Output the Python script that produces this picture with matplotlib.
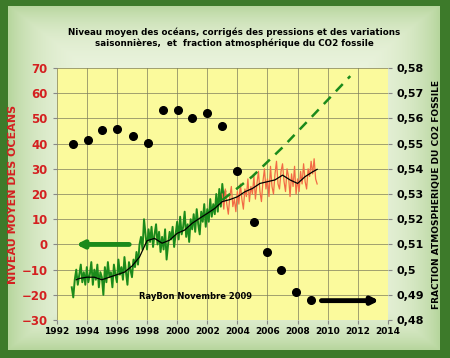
import numpy as np
import matplotlib.pyplot as plt

# niveau moyen (mm), pas de 0.1 an
green_start = 1993.0
green_vals = [-17, -21, -14, -10, -16, -12, -8, -15, -11, -16,
              -9, -15, -12, -7, -16, -10, -14, -8, -17, -11,
              -13, -20, -9, -15, -7, -13, -11, -17, -8, -12,
              -15, -6, -12, -9, -14, -5, -11, -16, -7, -10,
              -13, -6, -9, -3, -8, 0, 3, -2, 10, 4,
              -2, 6, 1, 7, -1, 4, 8, 0, 5, -3,
              3, -2, 6, -6, 0, 5, 2, 7, -1, 4,
              9, 2, 11, 4, 7, 13, 3, 8, 1, 10,
              6, 12, 5, 14, 8, 4, 13, 9, 16, 7,
              14, 9, 18, 11, 16, 12, 20, 13, 22, 15,
              24, 18, 21]
red_start = 2003.0
red_vals = [20, 14, 22, 16, 12, 19, 23, 15, 18, 13,
            21, 16, 24, 18, 14, 22, 19, 26, 17, 23,
            20, 27, 18, 24, 29, 21, 17, 25, 30, 22,
            26, 19, 31, 23, 20, 28, 33, 24, 22, 29,
            32, 25, 21, 30, 27, 19, 28, 23, 31, 20,
            26, 21, 29, 24, 32, 25, 22, 30, 27, 33,
            28, 34, 26, 24]
mean_years = [1993.3, 1993.5, 1994.0, 1994.5, 1995.0, 1995.5, 1996.0, 1996.5, 1997.0,
              1997.5, 1998.0, 1998.5, 1999.0, 1999.5, 2000.0, 2000.5, 2001.0, 2001.5,
              2002.0, 2002.5, 2003.0, 2003.5, 2004.0, 2004.5, 2005.0, 2005.5, 2006.0,
              2006.5, 2007.0, 2007.5, 2008.0, 2008.5, 2009.0, 2009.3]
mean_vals = [-14, -13.5, -13, -13, -14, -13, -12, -11, -8.6,
             -5, 1.5, 2.4, 0.5, 1.7, 4.4, 5.7, 8.4, 10.4,
             12.3, 14.3, 17, 17.8, 18.9, 20.9, 22.2, 24.2, 24.9,
             25.6, 27.5, 25.6, 24.2, 26.9, 28.8, 29.8]
trend_years = [2003.0, 2005.0, 2007.0, 2009.0, 2011.5]
trend_vals = [17.6, 27, 38.5, 51, 66.8]

# fraction atmospherique du CO2 fossile
frac_years = [1993.05, 1994.07, 1995.03, 1996.0, 1997.05, 1998.04, 1999.03, 2000.03,
              2001.0, 2002.0, 2003.0, 2004.0, 2005.1, 2006.0, 2006.9, 2007.9, 2008.9]
frac_vals = [0.550, 0.5515, 0.5555, 0.556, 0.553, 0.5503, 0.5633, 0.5633,
             0.560, 0.562, 0.557, 0.539, 0.519, 0.507, 0.500, 0.491, 0.488]

right_ticks = [0.48, 0.49, 0.50, 0.51, 0.52, 0.53, 0.54, 0.55, 0.56, 0.57, 0.58]
right_labels = ['0,48', '0,49', '0,5', '0,51', '0,52', '0,53', '0,54', '0,55', '0,56', '0,57', '0,58']

green_years = green_start + 0.1 * np.arange(len(green_vals))
red_years = red_start + 0.1 * np.arange(len(red_vals))

fig = plt.figure(figsize=(4.5, 3.58), dpi=100)
fig.patch.set_facecolor('#3d7a2a')

# fond degrade vert clair
bg = fig.add_axes([0.018, 0.022, 0.958, 0.962])
yy, xx = np.mgrid[-1:1:200j, -1:1:200j]
r = np.clip(np.maximum(np.abs(xx) ** 6, np.abs(yy) ** 6), 0, 1)
c_in = np.array([0.93, 0.96, 0.88])
c_out = np.array([0.72, 0.84, 0.62])
img = c_in[None, None, :] * (1 - r[..., None]) + c_out[None, None, :] * r[..., None]
bg.imshow(img, aspect='auto', extent=[0, 1, 0, 1])
bg.set_axis_off()

ax = fig.add_axes([0.126, 0.106, 0.736, 0.704])
ax.set_facecolor('#fbfa9c')
ax.plot(green_years, green_vals, color='#1b8a1b', lw=1.4, zorder=3)
ax.plot(red_years, red_vals, color='#f26b45', lw=0.9, zorder=3)
ax.plot(mean_years, mean_vals, color='black', lw=0.9, zorder=4)
ax.plot(trend_years, trend_vals, color='#1b8a1b', lw=1.8, dashes=(4, 3), zorder=3)

ax.annotate('', xy=(1993.1, 0), xytext=(1997.0, 0),
            arrowprops=dict(arrowstyle='-|>', color='#1b8a1b', lw=3.5,
                            mutation_scale=10), zorder=5)
ax.annotate('', xy=(2013.6, -22.3), xytext=(2009.4, -22.3),
            arrowprops=dict(arrowstyle='-|>', color='black', lw=3.5,
                            mutation_scale=10), zorder=5)
ax.text(2001.2, -20.5, 'RayBon Novembre 2009', fontsize=6, fontweight='bold',
        ha='center', va='center')

ax.set_xlim(1992, 2014)
ax.set_ylim(-30, 70)
ax.set_xticks(range(1992, 2015, 2))
ax.set_yticks(range(-30, 71, 10))
ax.grid(True, color='#7d7d5c', lw=0.5)
ax.set_axisbelow(True)
for s in ax.spines.values():
    s.set_visible(False)
ax.tick_params(axis='x', labelsize=6.5, length=3, color='#888888', pad=2)
ax.tick_params(axis='y', labelsize=8.5, length=3, color='#888888', labelcolor='#d42020')
for t in ax.get_xticklabels() + ax.get_yticklabels():
    t.set_fontweight('bold')
ax.set_ylabel('NIVEAU MOYEN DES OCEANS', color='#d42020', fontsize=8,
              fontweight='bold')
ax.yaxis.set_label_coords(-0.118, 0.5)

ax2 = ax.twinx()
ax2.plot(frac_years, frac_vals, 'o', color='black', ms=5.5, zorder=6)
ax2.set_ylim(0.48, 0.58)
ax2.set_yticks(right_ticks)
ax2.set_yticklabels(right_labels)
for s in ax2.spines.values():
    s.set_visible(False)
ax2.tick_params(axis='y', labelsize=8, length=3, color='#888888')
for t in ax2.get_yticklabels():
    t.set_fontweight('bold')
ax2.set_ylabel('FRACTION ATMOSPHERIQUE DU CO2 FOSSILE', fontsize=6.5,
               fontweight='bold')
ax2.yaxis.set_label_coords(1.133, 0.5)

fig.text(0.52, 0.895, 'Niveau moyen des océans, corrigés des pressions et des variations\n'
         'saisonnières,  et  fraction atmosphérique du CO2 fossile',
         ha='center', va='center', fontsize=6.3, fontweight='bold', linespacing=1.15)

fig.savefig('out.png', dpi=100, facecolor=fig.get_facecolor())
